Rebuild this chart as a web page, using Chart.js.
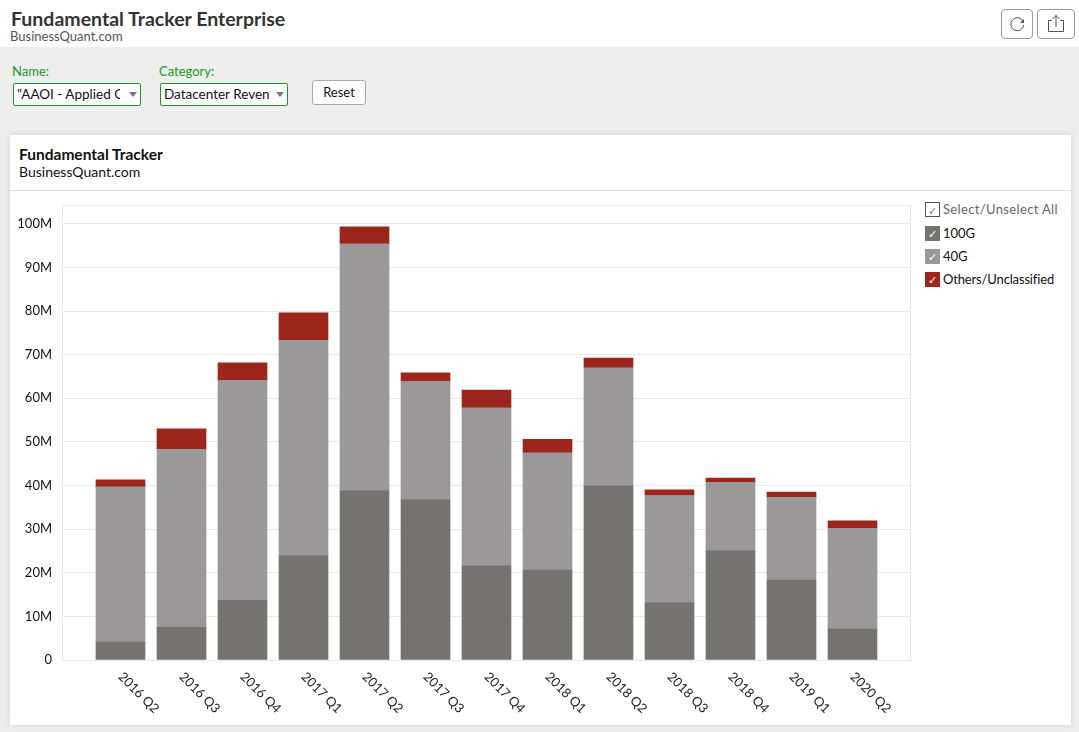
<!DOCTYPE html>
<html>
<head>
<meta charset="utf-8">
<script src="https://cdn.jsdelivr.net/npm/chart.js@4/dist/chart.umd.min.js"></script>
<style>
  html, body { margin: 0; padding: 0; }
  body { width: 1079px; height: 732px; overflow: hidden; background: #eeeeee; font-family: Lato, sans-serif; position: relative; color: #111; }
  .top { position: absolute; left: 0; top: 0; width: 1079px; height: 47px; background: #fff; }
  .top h1 { position: absolute; left: 11px; top: 8px; margin: 0; font-size: 19.5px; line-height: 22px; font-weight: 700; color: #333; }
  .top small { position: absolute; left: 10px; top: 29px; font-size: 13px; line-height: 15px; color: #555; }
  .icon { position: absolute; top: 9px; height: 30px; border: 1px solid #999; border-radius: 4px; background: #fff; box-sizing: border-box; }
  .lbl { position: absolute; top: 64px; font-size: 13px; line-height: 15px; color: #179a24; }
  .sel { position: absolute; top: 83px; width: 128px; height: 23px; box-sizing: border-box; border: 1px solid #179a24; border-radius: 2px; background: #fff; font-size: 13.5px; line-height: 20px; padding-left: 3px; overflow: hidden; white-space: nowrap; }
  .sel span { display: block; width: 103px; overflow: hidden; }
  .sel i { position: absolute; right: 3px; top: 8px; border: 4.5px solid transparent; border-top: 5px solid #777; border-bottom: 0; }
  .reset { position: absolute; left: 312px; top: 80px; width: 54px; height: 25px; box-sizing: border-box; border: 1px solid #aaa; border-radius: 3px; background: #fff; text-align: center; font-size: 13px; line-height: 22px; }
  .card { position: absolute; left: 10px; top: 135px; width: 1061px; height: 590px; background: #fff; box-shadow: 0 0 6px rgba(0,0,0,.12); }
  .card b { position: absolute; left: 9px; top: 11px; font-size: 15.5px; line-height: 17px; color: #111; }
  .card small { position: absolute; left: 9px; top: 28px; font-size: 14px; line-height: 17px; color: #111; }
  .card hr { position: absolute; left: 0; top: 55px; width: 100%; margin: 0; border: 0; border-top: 1px solid #e3e3e3; }
  .wrap { position: absolute; left: 10px; top: 191px; width: 905px; height: 534px; }
  .leg { position: absolute; left: 925px; font-size: 13px; line-height: 15px; height: 15px; white-space: nowrap; }
  .leg i { position: absolute; left: 0; top: 0; width: 15px; height: 15px; box-sizing: border-box; color: #fff; font-style: normal; font-size: 11px; line-height: 15px; text-align: center; }
  .leg span { position: absolute; left: 18px; top: 0; }
</style>
</head>
<body>
<div class="top">
  <h1>Fundamental Tracker Enterprise</h1>
  <small>BusinessQuant.com</small>
  <div class="icon" style="left:1001px;width:32px">
    <svg width="30" height="28" viewBox="0 0 30 28" fill="none" stroke="#555" stroke-width="1"><path d="M21 11a6.500 6.500 0 1 0 .8 4"/><path d="M22 9v4h-4" fill="#555" stroke="none"/></svg>
  </div>
  <div class="icon" style="left:1037px;width:38px">
    <svg width="36" height="28" viewBox="0 0 36 28" fill="none" stroke="#555" stroke-width="1"><path d="M14 10.500h-3.500v11h15v-11H22M18 17V5.500M14.500 9 18 5.500 21.500 9"/></svg>
  </div>
</div>

<div class="lbl" style="left:12px">Name:</div>
<div class="lbl" style="left:159px">Category:</div>
<div class="sel" style="left:13px"><span>"AAOI - Applied Optoelectronics"</span><i></i></div>
<div class="sel" style="left:160px"><span style="width:105px">Datacenter Revenue</span><i></i></div>
<div class="reset">Reset</div>

<div class="card">
  <b>Fundamental Tracker</b>
  <small>BusinessQuant.com</small>
  <hr>
</div>
<div class="wrap"><canvas id="chart" width="905" height="534"></canvas></div>

<div class="leg" style="top:202px;color:#666;letter-spacing:.35px"><i style="border:1px solid #555;color:#777">&#10003;</i><span>Select/Unselect All</span></div>
<div class="leg" style="top:226px"><i style="background:#747371">&#10003;</i><span>100G</span></div>
<div class="leg" style="top:249px"><i style="background:#9a9898">&#10003;</i><span>40G</span></div>
<div class="leg" style="top:272px;letter-spacing:-.15px"><i style="background:#9c261b">&#10003;</i><span>Others/Unclassified</span></div>

<script>
const categories = ['2016 Q2', '2016 Q3', '2016 Q4', '2017 Q1', '2017 Q2', '2017 Q3', '2017 Q4', '2018 Q1', '2018 Q2', '2018 Q3', '2018 Q4', '2019 Q1', '2020 Q2'];
const series100G = [4.1, 7.5, 13.7, 23.9, 38.8, 36.7, 21.6, 20.6, 39.9, 13.1, 25.0, 18.3, 7.1];
const series40G = [35.6, 40.8, 50.4, 49.4, 56.6, 27.2, 36.2, 26.9, 27.1, 24.6, 15.7, 19.0, 23.1];
const seriesOthers = [1.6, 4.7, 4.0, 6.3, 3.9, 1.9, 4.1, 3.1, 2.2, 1.3, 1.0, 1.2, 1.7];
const yTicks = [0, 10, 20, 30, 40, 50, 60, 70, 80, 90, 100];

// x is linear so the band can leave the wide gutter on both sides of the bars
function points(values) {
  return values.map((v, i) => ({ x: i, y: v }));
}

new Chart(document.getElementById('chart'), {
  type: 'bar',
  data: {
    datasets: [
      { label: '100G', data: points(series100G), backgroundColor: '#747371' },
      { label: '40G', data: points(series40G), backgroundColor: '#9a9898' },
      { label: 'Others/Unclassified', data: points(seriesOthers), backgroundColor: '#9c261b' }
    ]
  },
  options: {
    responsive: false,
    animation: false,
    barThickness: 49,
    layout: { padding: { top: 14, right: 4, left: 0, bottom: 0 } },
    plugins: { legend: { display: false }, tooltip: { enabled: false } },
    scales: {
      x: {
        type: 'linear',
        stacked: true,
        offset: false,
        min: -0.959,
        max: 12.959,
        afterBuildTicks: s => { s.ticks = categories.map((c, i) => ({ value: i })); },
        beforeUpdate: s => { s._getXAxisLabelAlignment = () => 'left'; },
        afterFit: s => { s.height = 65; },
        grid: { display: false, drawTicks: false },
        border: { display: false },
        ticks: {
          color: '#222',
          font: { family: 'Lato', size: 13 },
          minRotation: -45,
          maxRotation: -45,
          padding: 9,
          callback: v => categories[v]
        }
      },
      y: {
        stacked: true,
        min: 0,
        max: 104.3,
        afterBuildTicks: s => { s.ticks = yTicks.map(v => ({ value: v })); },
        afterFit: s => { s.width = 52; s.paddingTop = 0; },
        grid: { color: '#e9e9e9', drawTicks: false },
        border: { display: false },
        ticks: {
          color: '#111',
          font: { family: 'Lato', size: 13 },
          padding: 10,
          callback: v => v === 0 ? '0' : v + 'M'
        }
      }
    }
  },
  plugins: [{
    // thin frame round the plot
    id: 'frame',
    beforeDatasetsDraw(chart) {
      const { ctx, chartArea: a } = chart;
      ctx.save();
      ctx.strokeStyle = '#e9e9e9';
      ctx.strokeRect(a.left + 0.5, a.top + 0.5, a.right - a.left - 1, a.bottom - a.top);
      ctx.restore();
    }
  }]
});
</script>
</body>
</html>
